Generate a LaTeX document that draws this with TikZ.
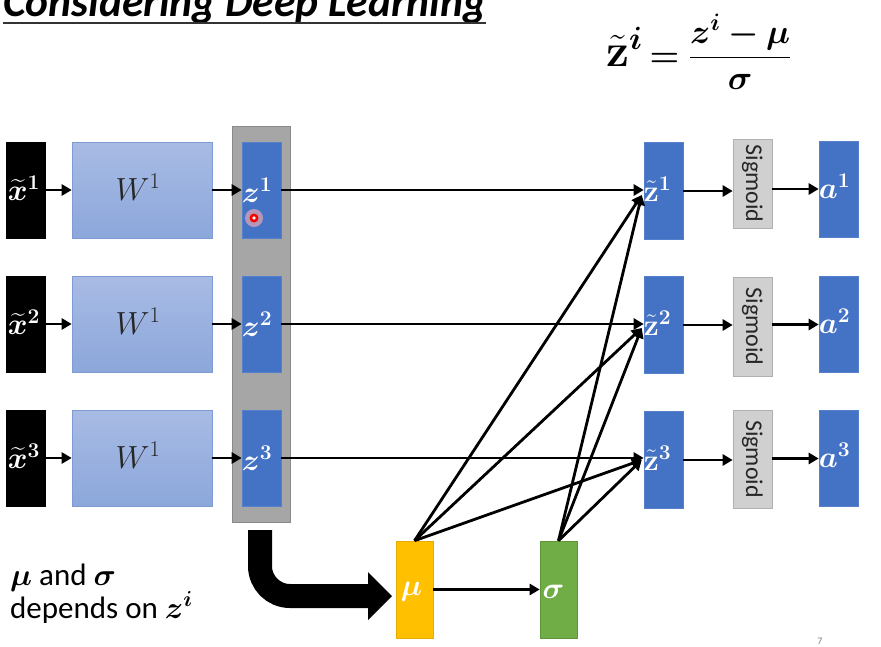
\RequirePackage{fix-cm}
\documentclass[tikz,border=0pt]{standalone}
\usepackage{amsmath}
\usepackage{bm}
\usepackage[no-math]{fontspec}
\setmainfont{Carlito}
\usetikzlibrary{arrows.meta}
\definecolor{zblue}{HTML}{4472C4}
\definecolor{zblueedge}{HTML}{5580CC}
\definecolor{wtop}{HTML}{A8BBE4}
\definecolor{wbot}{HTML}{8CA7DB}
\definecolor{wedge}{HTML}{7E9BD4}
\definecolor{grayfill}{HTML}{A6A6A6}
\definecolor{grayedge}{HTML}{8A8A8A}
\definecolor{sgfill}{HTML}{D0D0D0}
\definecolor{sgedge}{HTML}{B0B0B0}
\definecolor{mufill}{HTML}{FFC000}
\definecolor{muedge}{HTML}{E6AC00}
\definecolor{sifill}{HTML}{70AD47}
\definecolor{siedge}{HTML}{5E963A}
\tikzset{
  box/.style={draw, line width=0.6pt, minimum width=39pt, minimum height=96pt, inner sep=0pt},
  bluebox/.style={box, fill=zblue, draw=zblueedge},
  blackbox/.style={box, fill=black, draw=black},
  wbox/.style={box, minimum width=140pt, top color=wtop, bottom color=wbot, draw=wedge},
  sigbox/.style={box, minimum width=39pt, fill=sgfill, draw=sgedge},
  lab/.style={text=white, font=\fontsize{30}{36}\selectfont, inner sep=0pt},
  sigtext/.style={text=black!85, font=\fontsize{24}{28}\selectfont, rotate=-90, inner sep=0pt},
  conn/.style={line width=2.8pt, -{Triangle[length=10pt,width=11pt]}},
}
\begin{document}
\begin{tikzpicture}[x=1pt,y=-1pt]
\useasboundingbox (0,0) rectangle (881,646);
\clip (0,0) rectangle (881,646);

% title
\node[anchor=base west, inner sep=0pt, font=\fontsize{43.5}{50}\selectfont\bfseries\itshape] (title) at (3,16) {Considering Deep Learning};
\draw[line width=2pt, black!80] ([yshift=-7pt]title.base west) -- ([yshift=-7pt]title.base east);

% formula
\node[anchor=west, inner sep=0pt] (formula) at (606,52)
  {\fontsize{46}{50}\selectfont$\tilde{\mathbf{z}}^{\bm{i}}$\hspace{7pt}\fontsize{34}{40}\selectfont$\bm{=}\displaystyle\frac{\bm{z}^{\bm{i}}\bm{-}\bm{\mu}}{\bm{\sigma}}$};

% gray container
\node[draw=grayedge, fill=grayfill, line width=0.8pt, minimum width=58pt, minimum height=396pt, inner sep=0pt] (grp) at (261,324) {};

% rows
\foreach \r/\y/\ya/\yt/\ys/\hs in {1/190/189/191/183.5/89, 2/324/324.5/325/326.5/99, 3/458/458.5/460/459/98} {
  \node[blackbox] (x\r) at (25.5,\y) {};
  \node[wbox] (w\r) at (142,\y) {};
  \node[bluebox] (z\r) at (261.5,\y) {};
  \node[bluebox, minimum height=97pt] (zt\r) at (663.5,\yt) {};
  \node[sigbox, minimum height=\hs pt] (sg\r) at (752.5,\ys) {};
  \node[bluebox] (a\r) at (838.5,\ya) {};
  % labels
  \node[lab, anchor=base west] (xl\r) at ([xshift=2pt,yshift=-10pt]x\r.west) {$\widetilde{\bm{x}}^{\bm{\r}}$};
  \node[inner sep=0pt, anchor=base, font=\fontsize{32}{36}\selectfont, text=black!85] (wl\r) at ([xshift=-4pt,yshift=-10pt]w\r.center) {$W^{1}$};
  \node[lab, anchor=base west] (zl\r) at ([xshift=0pt,yshift=-12pt]z\r.west) {$\bm{z}^{\bm{\r}}$};
  \node[lab, anchor=base west] (ztl\r) at ([xshift=0pt,yshift=-10pt]zt\r.west) {$\tilde{\mathbf{z}}^{\bm{\r}}$};
  \node[sigtext] (sgl\r) at (sg\r.center) {Sigmoid};
  \node[lab, anchor=base west] (al\r) at ([xshift=0pt,yshift=-9pt]a\r.west) {$\bm{a}^{\bm{\r}}$};
  % connectors
  \draw[conn] (x\r.east) -- (w\r.west);
  \draw[conn] (w\r.east) -- (z\r.west);
  \draw[conn] (z\r.east) -- (z\r.east -| zt\r.west);
  \draw[conn] (zt\r.east) -- (zt\r.east -| sg\r.west);
  \draw[conn] (a\r.west -| sg\r.east) -- (a\r.west);
}

% laser pointer dot
\fill[red!30, opacity=0.6] (254,218) circle (9pt);
\fill[red] (254,218) circle (4.5pt);
\fill[white] (254,218) circle (1.8pt);

% mu and sigma
\node[box, fill=mufill, draw=muedge, minimum width=37pt, minimum height=97pt] (mu) at (414.5,589.5) {};
\node[box, fill=sifill, draw=siedge, minimum width=37pt, minimum height=97pt] (sig) at (558.5,589.5) {};
\node[lab] (mul) at ([xshift=-3pt,yshift=-2pt]mu.center) {$\bm{\mu}$};
\node[lab] (sigl) at ([xshift=-5pt,yshift=-2pt]sig.center) {$\bm{\sigma}$};
\draw[conn] (mu.east) -- (sig.west);

\foreach \r/\s in {1/-4, 2/-3, 3/0} {
  \draw[conn] (mu.north) -- ([xshift=-2pt,yshift=\s pt]zt\r.west);
  \draw[conn] (sig.north) -- ([xshift=-2pt,yshift=\s pt]zt\r.west);
}

% big arrow from group to mu
\coordinate (bigstart) at (grp.south |- 0,530);
\coordinate (bigturn) at (bigstart |- 0,596);
\coordinate (bighead) at (368,596);
\draw[line width=24pt, rounded corners=30pt] ([xshift=-1pt]bigstart) -- ([xshift=-1pt]bigturn) -- (bighead);
\fill (368,572) -- (392,596) -- (368,620) -- cycle;

% left text
\node[anchor=base west, inner sep=0pt, font=\fontsize{31}{36}\selectfont] (t1) at (10,585) {$\bm{\mu}$ and $\bm{\sigma}$};
\node[anchor=base west, inner sep=0pt, font=\fontsize{31}{36}\selectfont] (t2) at (10,618) {depends on $\bm{z}^{\bm{i}}$};

% page number
\node[text=black!50, font=\fontsize{10}{12}\selectfont, inner sep=0pt] (pg) at (820,641) {7};
\end{tikzpicture}
\end{document}
